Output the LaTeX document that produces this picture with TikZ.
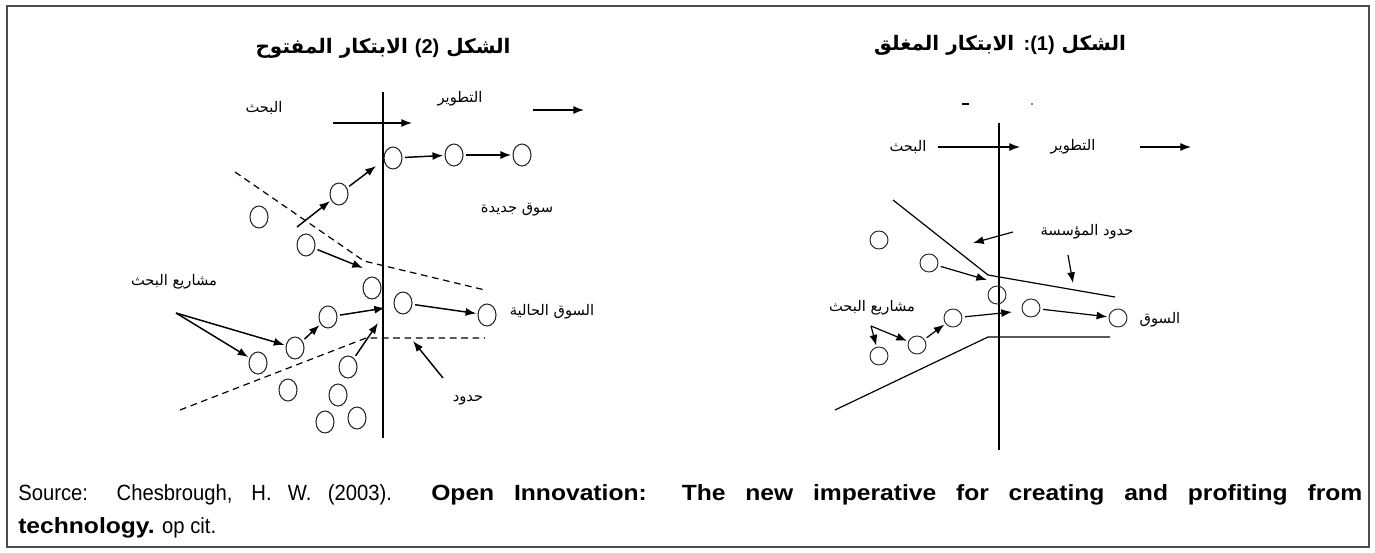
\documentclass[tikz,border=0pt]{standalone}
\usepackage{fontspec}
\usetikzlibrary{arrows.meta,shapes.geometric}
\TeXXeTstate=1
\newfontfamily\arfont[Script=Arabic]{DejaVu Sans}
\newfontfamily\latfont{Liberation Sans}
\newfontfamily\capfont[FakeStretch=0.92]{Liberation Sans}
\newfontfamily\capbold[FakeStretch=1.12]{Liberation Sans}
\begin{document}
\begin{tikzpicture}[x=0.75pt,y=-0.75pt,
  ov/.style={ellipse,draw=black!85,line width=0.8pt,minimum width=13.5pt,minimum height=16.5pt,inner sep=0pt},
  rc/.style={circle,draw=black!85,line width=0.7pt,minimum size=13.5pt,inner sep=0pt},
  arr/.style={-{Latex[length=8pt,width=6pt]},line width=1.1pt,shorten <=2pt,shorten >=1pt},
  rarr/.style={-{Latex[length=8pt,width=6pt]},line width=0.9pt,shorten <=2pt,shorten >=1pt},
  dline/.style={dash pattern=on 5pt off 3.5pt,line width=0.9pt},
  sline/.style={line width=0.9pt},
  lbl/.style={font=\arfont\fontsize{11}{13}\selectfont,inner sep=1pt},
  ttl/.style={font=\arfont\bfseries\fontsize{15}{18}\selectfont,inner sep=1pt},
  capt/.style={font=\capfont\fontsize{16.5}{19}\selectfont,inner sep=0pt}]
\useasboundingbox (0,0) rectangle (1375,553);
\draw[black!70,line width=1.6pt] (7,6) rectangle (1369,547);

% ---------- left panel: figure (2) open innovation ----------
\node[ttl] (Ltitle) at (383,48) {\beginR الشكل {\latfont\bfseries\beginL(2)\endL} الابتكار المفتوح\endR};
\coordinate (Lvt) at (383,92);
\coordinate (Lvb) at (383,438);
\draw[line width=1.4pt] (Lvt) -- (Lvb);
\node[lbl] (Lres) at (264,108) {\beginR البحث\endR};
\node[lbl] (Ldev) at (460,99) {\beginR التطوير\endR};
\coordinate (La1s) at (333,123);
\coordinate (La1e) at (412,123);
\coordinate (La2s) at (533,110);
\coordinate (La2e) at (584,110);
\draw[arr,shorten <=0pt,shorten >=0pt] (La1s) -- (La1e);
\draw[arr,shorten <=0pt,shorten >=0pt] (La2s) -- (La2e);

\node[ov] (c1) at (393,158) {};
\node[ov] (c2) at (454,155) {};
\node[ov] (c3) at (522,155) {};
\node[ov] (c4) at (339,194) {};
\node[ov] (c5) at (259,217) {};
\node[ov] (c6) at (306,245) {};
\node[ov] (c7) at (372,288) {};
\node[ov] (c8) at (403,303) {};
\node[ov] (c9) at (487,315) {};
\node[ov] (c10) at (328,317) {};
\node[ov] (c11) at (295,348) {};
\node[ov] (c12) at (258,363) {};
\node[ov] (c13) at (348,367) {};
\node[ov] (c14) at (288,390) {};
\node[ov] (c15) at (338,395) {};
\node[ov] (c16) at (325,422) {};
\node[ov] (c17) at (357,418) {};

\coordinate (Ld1a) at (235,172);
\coordinate (Ld1b) at (364,261);
\coordinate (Ld1c) at (485,290);
\coordinate (Ld2a) at (180,410);
\coordinate (Ld2b) at (366,338);
\coordinate (Ld2c) at (485,338);
\draw[dline] (Ld1a) -- (Ld1b) -- (Ld1c);
\draw[dline] (Ld2a) -- (Ld2b) -- (Ld2c);

\node[lbl] (Lproj) at (174,282) {\beginR مشاريع البحث\endR};
\node[lbl] (Lnew) at (517,210) {\beginR سوق جديدة\endR};
\node[lbl] (Lcur) at (552,312) {\beginR السوق الحالية\endR};
\node[lbl] (Lbnd) at (468,400) {\beginR حدود\endR};

\coordinate (Lp0) at (176,313);
\coordinate (Lx1) at (385,308);
\coordinate (Lx2) at (378,323);
\coordinate (Lx3) at (363,268);
\coordinate (Lx4) at (297,227);
\coordinate (Lx5) at (376,166);
\coordinate (Lh1) at (443,378);
\coordinate (Lh2) at (413,341);
\draw[arr,shorten <=0pt] (Lp0) -- (c12);
\draw[arr,shorten <=0pt] (Lp0) -- (c11);
\draw[arr] (c11) -- (c10);
\draw[arr,shorten >=0pt] (c10) -- (Lx1);
\draw[arr,shorten >=0pt] (c13) -- (Lx2);
\draw[arr] (c8) -- (c9);
\draw[arr,shorten <=0pt,shorten >=0pt] (Lh1) -- (Lh2);
\draw[arr,shorten >=0pt] (c6) -- (Lx3);
\draw[arr,shorten <=0pt] (Lx4) -- (c4);
\draw[arr,shorten >=0pt] (c4) -- (Lx5);
\draw[arr] (c1) -- (c2);
\draw[arr] (c2) -- (c3);

% ---------- right panel: figure (1) closed innovation ----------
\node[ttl] (Rtitle) at (1000,45) {\beginR الشكل {\latfont\bfseries\beginL(1)\endL:} الابتكار المغلق\endR};
\coordinate (Rvt) at (999,123);
\coordinate (Rvb) at (999,450);
\draw[line width=0.9pt] (Rvt) -- (Rvb);
\coordinate (Rm1) at (962,104);
\coordinate (Rm2) at (969,104);
\draw[line width=1pt] (Rm1) -- (Rm2);
\coordinate (Rdot) at (1032,104);
\fill (Rdot) circle[radius=0.9];
\node[lbl] (Rres) at (908,147) {\beginR البحث\endR};
\node[lbl] (Rdev) at (1073,147) {\beginR التطوير\endR};
\coordinate (Ra1s) at (938,147);
\coordinate (Ra1e) at (1020,147);
\coordinate (Ra2s) at (1140,147);
\coordinate (Ra2e) at (1191,147);
\draw[rarr,shorten <=0pt,shorten >=0pt] (Ra1s) -- (Ra1e);
\draw[rarr,shorten <=0pt,shorten >=0pt] (Ra2s) -- (Ra2e);

\coordinate (Ru1) at (893,200);
\coordinate (Ru2) at (988,275);
\coordinate (Ru3) at (1115,297);
\coordinate (Rl1) at (835,410);
\coordinate (Rl2) at (988,337);
\coordinate (Rl3) at (1110,337);
\draw[sline] (Ru1) -- (Ru2) -- (Ru3);
\draw[sline] (Rl1) -- (Rl2) -- (Rl3);

\node[rc] (r1) at (879,240) {};
\node[rc] (r2) at (929,263) {};
\node[rc] (r3) at (997,295) {};
\node[rc] (r4) at (1031,308) {};
\node[rc] (r5) at (1118,318) {};
\node[rc] (r6) at (953,318) {};
\node[rc] (r7) at (917,345) {};
\node[rc] (r8) at (879,356) {};

\node[lbl] (Rbnd) at (1087,232) {\beginR حدود المؤسسة\endR};
\node[lbl] (Rproj) at (872,308) {\beginR مشاريع البحث\endR};
\node[lbl] (Rmkt) at (1160,320) {\beginR السوق\endR};

\coordinate (Rb1) at (1013,232);
\coordinate (Rb2) at (973,243);
\coordinate (Rb3) at (1068,255);
\coordinate (Rb4) at (1073,283);
\coordinate (Rx1) at (987,280);
\coordinate (Rx2) at (1012,312);
\coordinate (Rp0) at (871,326);
\draw[rarr,shorten <=0pt,shorten >=0pt] (Rb1) -- (Rb2);
\draw[rarr,shorten <=0pt,shorten >=0pt] (Rb3) -- (Rb4);
\draw[rarr,shorten >=0pt] (r2) -- (Rx1);
\draw[rarr,shorten >=0pt] (r6) -- (Rx2);
\draw[rarr] (r4) -- (r5);
\draw[rarr] (r7) -- (r6);
\draw[rarr,shorten <=0pt] (Rp0) -- (r8);
\draw[rarr,shorten <=0pt] (Rp0) -- (r7);

% ---------- caption ----------
\node[capt,anchor=base west] (cap1) at (18,500) {\makebox[1008pt][s]{Source: Chesbrough, H. W. (2003). {\capbold\bfseries Open Innovation: The new imperative for creating and profiting from}}};
\node[capt,anchor=base west] (cap2) at (18,533) {{\capbold\bfseries technology.} op cit.};
\end{tikzpicture}
\end{document}
